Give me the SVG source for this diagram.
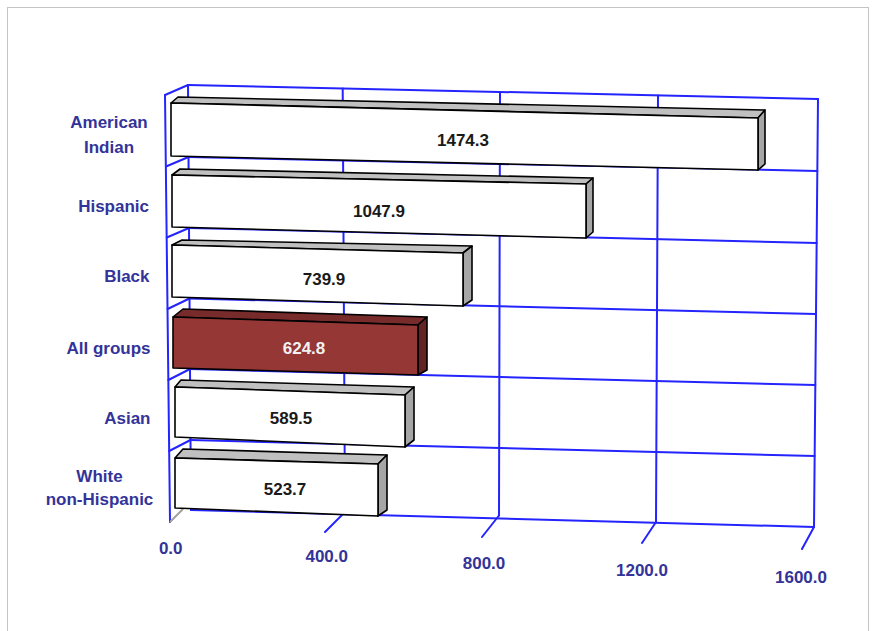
<svg xmlns="http://www.w3.org/2000/svg" width="877" height="631" viewBox="0 0 877 631">
<style>
.g{stroke:#2424ff;stroke-width:2;fill:none;stroke-linecap:round}
.gr{stroke:#a0a0a0;stroke-width:2;fill:none}
.fw{fill:#ffffff;stroke:#000;stroke-width:1.6;stroke-linejoin:round}
.tw{fill:#c0c0c0;stroke:#000;stroke-width:1.6;stroke-linejoin:round}
.rw{fill:#a6a6a6;stroke:#000;stroke-width:1.6;stroke-linejoin:round}
.fr{fill:#953735;stroke:#000;stroke-width:1.6;stroke-linejoin:round}
.tr{fill:#772b2a;stroke:#000;stroke-width:1.6;stroke-linejoin:round}
.rr{fill:#632423;stroke:#000;stroke-width:1.6;stroke-linejoin:round}
.v{font-family:"Liberation Sans",Arial,sans-serif;font-weight:bold;font-size:17px;text-anchor:middle;fill:#1a1a1a}
.vr{fill:#f2f2f2}
.c{font-family:"Liberation Sans",Arial,sans-serif;font-weight:bold;font-size:17px;fill:#333399}
.e{text-anchor:end}
.m{text-anchor:middle}
</style>
<rect x="7.5" y="7.5" width="861" height="640" fill="#ffffff" stroke="#c4c4c4" stroke-width="1"/>
<g id="grid">
<!-- left wall -->
<path class="g" d="M165,95 L170,522"/>
<path class="g" d="M165,95 L188,85 M166,166.5 L188.5,157 M166.8,237.5 L189,228 M167.6,309 L189.5,298.5 M168.4,380 L190,369 M169.2,451 L190.5,440"/>
<path class="gr" d="M170,522 L183,509"/>
<!-- back wall horizontals -->
<path class="g" d="M188,85 L818,99 M188.5,157 L817.3,171 M189,228 L816.7,243 M189.5,298.5 L816,314 M190,369 L815.3,385 M190.5,440 L814.7,456 M191,510 L814,527"/>
<!-- back wall verticals -->
<path class="g" d="M188,85 L191,510 M342.7,88.4 L345,513 M500,92 L499,515.5 M658,95.5 L656,522 M818,99 L814,527"/>
<!-- ticks -->
<path class="g" d="M344,513 L325,532 M499,515.5 L482,537 M656,522 L642,543 M814,527 L802,549"/>
</g>
<g id="bar-american-indian">
<polygon class="tw" points="171,103 178,97 765,110 758,118"/>
<polygon class="rw" points="758,118 765,110 765,164 758,170"/>
<polygon class="fw" points="171,103 758,118 758,170 171,156"/>
<text class="v" x="463" y="146">1474.3</text>
</g>
<g id="bar-hispanic">
<polygon class="tw" points="172,175 180,169 593,178 586,184"/>
<polygon class="rw" points="586,184 593,178 593,232 586,238"/>
<polygon class="fw" points="172,175 586,184 586,238 172,227"/>
<text class="v" x="379" y="217">1047.9</text>
</g>
<g id="bar-black">
<polygon class="tw" points="172,245 182,240 472,246 463,253"/>
<polygon class="rw" points="463,253 472,246 472,300 463,306"/>
<polygon class="fw" points="172,245 463,253 463,306 172,297"/>
<text class="v" x="324" y="285">739.9</text>
</g>
<g id="bar-all-groups">
<polygon class="tr" points="173,317 183,309 427,317 418,325"/>
<polygon class="rr" points="418,325 427,317 427,370 418,375"/>
<polygon class="fr" points="173,317 418,325 418,375 173,368"/>
<text class="v vr" x="304" y="354">624.8</text>
</g>
<g id="bar-asian">
<polygon class="tw" points="175,387 181,380 414,387 405,395"/>
<polygon class="rw" points="405,395 414,387 414,440 405,447"/>
<polygon class="fw" points="175,387 405,395 405,447 175,437"/>
<text class="v" x="291" y="424">589.5</text>
</g>
<g id="bar-white">
<polygon class="tw" points="175,458 183,449 387,455 378,464"/>
<polygon class="rw" points="378,464 387,455 387,510 378,516"/>
<polygon class="fw" points="175,458 378,464 378,516 175,508"/>
<text class="v" x="285" y="495">523.7</text>
</g>
<g id="category-labels">
<text class="c m" x="109" y="128">American</text>
<text class="c m" x="109" y="153">Indian</text>
<text class="c e" x="149" y="212">Hispanic</text>
<text class="c e" x="149.5" y="282">Black</text>
<text class="c e" x="150.5" y="354">All groups</text>
<text class="c e" x="150.5" y="424">Asian</text>
<text class="c m" x="99.5" y="482">White</text>
<text class="c m" x="99.5" y="505">non-Hispanic</text>
</g>
<g id="axis-labels">
<text class="c m" x="170.7" y="554">0.0</text>
<text class="c m" x="326.7" y="562">400.0</text>
<text class="c m" x="484" y="569">800.0</text>
<text class="c m" x="642" y="576">1200.0</text>
<text class="c m" x="801" y="583">1600.0</text>
</g>
</svg>
